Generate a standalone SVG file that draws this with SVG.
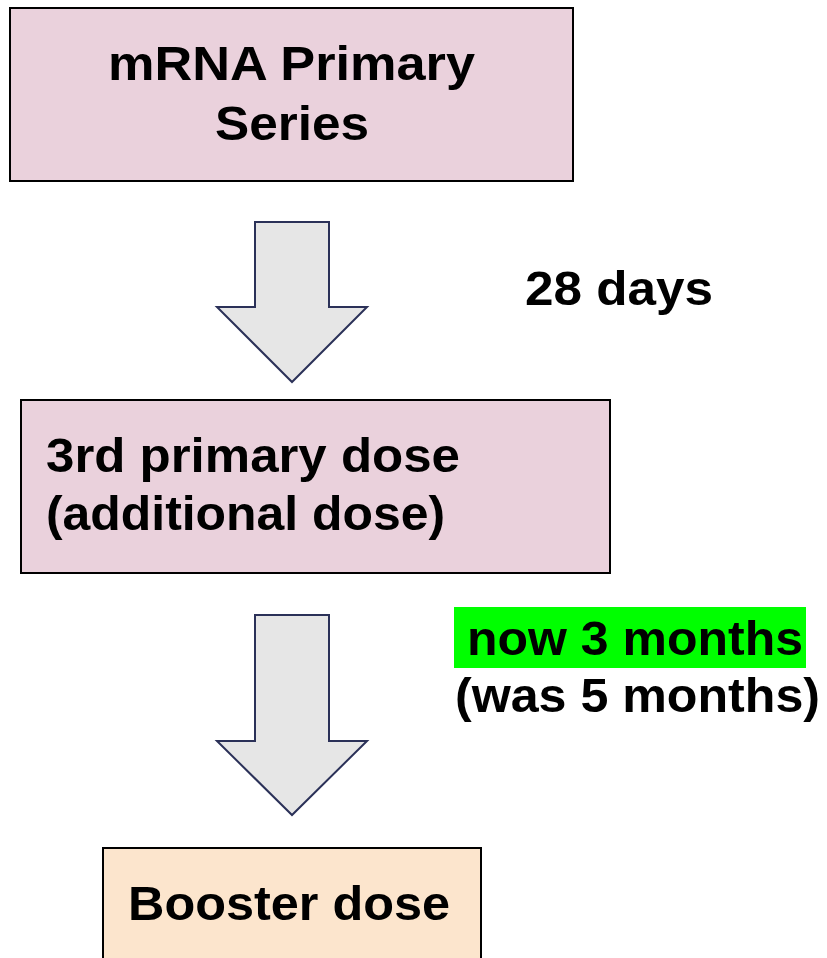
<svg xmlns="http://www.w3.org/2000/svg" width="827" height="958" viewBox="0 0 827 958">
<style>
.box{stroke:#000;stroke-width:2}
.pink{fill:#ead1dc}
.peach{fill:#fce5cd}
.arrow{fill:#e6e6e6;stroke:#2b3158;stroke-width:2;stroke-linejoin:miter}
text{font-family:"Liberation Sans",Arial,sans-serif;font-weight:bold;font-size:48px;fill:#000}
</style>
<rect width="827" height="958" fill="#fff"/>
<g id="node-mrna">
<rect class="box pink" x="10" y="8" width="563" height="173"/>
<text x="108" y="80" textLength="367" lengthAdjust="spacingAndGlyphs">mRNA Primary</text>
<text x="215" y="140" textLength="154" lengthAdjust="spacingAndGlyphs">Series</text>
</g>
<g id="node-third">
<rect class="box pink" x="21" y="400" width="589" height="173"/>
<text x="46" y="472" textLength="414" lengthAdjust="spacingAndGlyphs">3rd primary dose</text>
<text x="46" y="530" textLength="399" lengthAdjust="spacingAndGlyphs">(additional dose)</text>
</g>
<g id="node-booster">
<rect class="box peach" x="103" y="848" width="378" height="120"/>
<text x="128" y="920" textLength="322" lengthAdjust="spacingAndGlyphs">Booster dose</text>
</g>
<g id="connectors">
<polygon class="arrow" points="255,222 329,222 329,307 367,307 292,382 217,307 255,307"/>
<polygon class="arrow" points="255,615 329,615 329,741 367,741 292,815 217,741 255,741"/>
<text x="525" y="305" textLength="188" lengthAdjust="spacingAndGlyphs">28 days</text>
<rect x="454" y="607" width="352" height="61" fill="#00ff00"/>
<text x="467" y="655" textLength="336" lengthAdjust="spacingAndGlyphs">now 3 months</text>
<text x="455" y="712" textLength="365" lengthAdjust="spacingAndGlyphs">(was 5 months)</text>
</g>
</svg>
